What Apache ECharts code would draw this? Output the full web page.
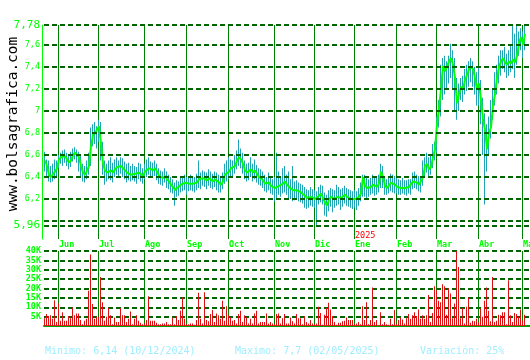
<!DOCTYPE html>
<html><head><meta charset="utf-8">
<script src="https://cdn.jsdelivr.net/npm/echarts@6/dist/echarts.min.js"></script>
<style>html,body{margin:0;padding:0;background:#fff}#c{width:530px;height:360px}</style>
</head><body><div id="c"></div>
<script>
// ---- data ----
const monthNames = ['Jun','Jul','Ago','Sep','Oct','Nov','Dic','Ene','Feb','Mar','Abr','May'];
const monthStart = [7,27,50,71,92,115,135,155,176,196,217,239];

const close = [
 6.55,6.50,6.42,6.40,6.41,6.45,6.48,
 6.56,6.58,6.57,6.59,6.58,6.53,6.55,6.60,6.62,6.61,6.58,6.50,6.44,6.42,6.43,6.50,6.68,6.78,6.80,6.79,
 6.86,6.70,6.52,6.46,6.44,6.45,6.46,6.44,6.47,6.49,6.48,6.50,6.49,6.46,6.44,6.45,6.42,6.43,6.43,6.42,6.44,6.43,6.41,
 6.45,6.46,6.48,6.47,6.46,6.48,6.45,6.41,6.40,6.39,6.41,6.38,6.36,6.33,6.31,6.28,6.30,6.29,6.33,6.34,6.35,
 6.34,6.34,6.35,6.34,6.33,6.35,6.38,6.37,6.39,6.38,6.37,6.39,6.38,6.36,6.38,6.37,6.35,6.33,6.36,6.42,6.43,
 6.45,6.48,6.47,6.50,6.55,6.58,6.56,6.52,6.46,6.44,6.45,6.47,6.44,6.46,6.43,6.40,6.39,6.37,6.34,6.33,6.35,6.32,6.31,
 6.30,6.31,6.32,6.31,6.34,6.36,6.33,6.31,6.30,6.28,6.27,6.28,6.27,6.26,6.25,6.23,6.21,6.20,6.22,6.21,
 6.20,6.19,6.23,6.25,6.24,6.17,6.14,6.20,6.22,6.21,6.20,6.22,6.23,6.21,6.22,6.24,6.22,6.21,6.20,6.19,
 6.20,6.21,6.22,6.25,6.40,6.32,6.30,6.29,6.31,6.33,6.32,6.31,6.34,6.45,6.40,6.32,6.30,6.31,6.35,6.34,6.33,
 6.31,6.30,6.30,6.31,6.30,6.29,6.31,6.30,6.36,6.37,6.35,6.33,6.32,6.40,6.50,6.52,6.47,6.49,6.58,6.65,
 6.88,7.02,7.20,7.41,7.36,7.35,7.45,7.48,7.42,7.30,7.07,7.15,7.22,7.20,7.28,7.33,7.38,7.40,7.38,7.30,7.19,
 7.25,7.10,6.92,6.83,6.65,6.80,6.85,7.05,7.15,7.30,7.40,7.45,7.48,7.44,7.42,7.45,7.43,7.47,7.44,7.50,7.62,7.67,
 7.60,7.70
];
const high = [
 6.63,6.56,6.55,6.50,6.52,6.56,6.55,
 6.60,6.62,6.64,6.65,6.62,6.60,6.63,6.66,6.67,6.65,6.63,6.60,6.52,6.50,6.55,6.62,6.85,6.88,6.90,6.86,
 6.92,6.90,6.72,6.55,6.52,6.55,6.58,6.53,6.56,6.58,6.55,6.58,6.57,6.54,6.52,6.53,6.50,6.52,6.50,6.49,6.53,6.52,6.48,
 6.52,6.56,6.58,6.54,6.53,6.55,6.52,6.48,6.46,6.45,6.48,6.45,6.42,6.40,6.38,6.35,6.37,6.36,6.40,6.41,6.42,
 6.40,6.41,6.42,6.41,6.40,6.43,6.55,6.44,6.46,6.45,6.44,6.47,6.45,6.43,6.45,6.44,6.42,6.40,6.44,6.52,6.55,
 6.58,6.56,6.55,6.60,6.64,6.74,6.66,6.62,6.55,6.52,6.53,6.58,6.52,6.56,6.51,6.48,6.47,6.45,6.42,6.40,6.44,6.40,6.38,
 6.40,6.62,6.45,6.40,6.48,6.50,6.42,6.45,6.38,6.50,6.36,6.37,6.35,6.34,6.33,6.31,6.29,6.28,6.31,6.29,
 6.28,6.27,6.31,6.33,6.32,6.26,6.24,6.28,6.30,6.29,6.28,6.33,6.31,6.29,6.30,6.32,6.30,6.29,6.28,6.27,
 6.28,6.27,6.30,6.35,6.42,6.42,6.40,6.38,6.39,6.42,6.40,6.39,6.42,6.52,6.50,6.40,6.38,6.39,6.43,6.42,6.41,
 6.39,6.38,6.37,6.39,6.37,6.37,6.38,6.38,6.44,6.45,6.42,6.41,6.40,6.55,6.58,6.62,6.58,6.60,6.70,6.72,
 6.95,7.10,7.42,7.48,7.50,7.45,7.50,7.61,7.55,7.48,7.30,7.25,7.30,7.32,7.38,7.42,7.45,7.48,7.45,7.40,7.35,
 7.40,7.28,7.12,6.98,6.88,6.95,7.10,7.20,7.35,7.42,7.50,7.55,7.55,7.58,7.52,7.55,7.60,7.78,7.70,7.78,7.72,7.75,
 7.72,7.78
];
const low = [
 6.45,6.40,6.36,6.35,6.36,6.38,6.40,
 6.48,6.52,6.50,6.53,6.50,6.47,6.49,6.54,6.56,6.53,6.45,6.40,6.36,6.35,6.38,6.42,6.50,6.68,6.70,6.66,
 6.72,6.55,6.42,6.33,6.36,6.38,6.37,6.35,6.40,6.42,6.40,6.43,6.40,6.38,6.35,6.37,6.36,6.37,6.36,6.34,6.38,6.36,6.34,
 6.38,6.40,6.42,6.40,6.39,6.41,6.37,6.34,6.33,6.32,6.35,6.30,6.29,6.26,6.25,6.14,6.22,6.23,6.26,6.27,6.28,
 6.24,6.27,6.28,6.27,6.26,6.28,6.30,6.29,6.32,6.31,6.29,6.32,6.30,6.29,6.31,6.28,6.26,6.26,6.29,6.34,6.36,
 6.38,6.40,6.39,6.43,6.47,6.50,6.48,6.43,6.38,6.36,6.37,6.40,6.36,6.38,6.35,6.33,6.32,6.30,6.27,6.26,6.28,6.25,6.24,
 6.18,6.20,6.24,6.22,6.25,6.26,6.24,6.20,6.20,6.18,6.19,6.20,6.18,6.17,6.16,6.12,6.11,6.12,6.14,6.13,
 6.12,5.96,6.15,6.17,6.15,6.05,6.04,6.09,6.13,6.08,6.12,6.14,6.15,6.10,6.13,6.16,6.14,6.13,6.12,6.11,
 6.12,6.10,6.14,6.18,6.22,6.22,6.21,6.22,6.24,6.25,6.23,6.24,6.26,6.30,6.30,6.24,6.24,6.25,6.27,6.26,6.25,
 6.25,6.24,6.24,6.25,6.24,6.23,6.25,6.24,6.29,6.30,6.29,6.27,6.26,6.32,6.40,6.44,6.40,6.42,6.48,6.55,
 6.62,6.85,6.95,7.10,7.15,7.20,7.25,7.30,7.20,7.00,6.92,7.00,7.10,7.08,7.15,7.18,7.22,7.26,7.22,7.15,7.05,
 7.05,6.88,6.60,6.15,6.45,6.60,6.75,6.92,7.05,7.15,7.25,7.32,7.38,7.35,7.30,7.32,7.35,7.38,7.30,7.42,7.50,7.55,
 7.48,7.55
];
// volume in thousands of shares
const volume = [
 4.2,6.4,5.3,5.7,3.9,13.8,2.1,
 12,2.8,7.4,2.8,2.8,5.3,4.2,9.9,5.7,6.7,6.7,3.2,1,2.8,3.9,18.8,38.2,11.7,3.9,5,
 5,26.2,12.7,2.8,5,9.6,5.7,1,4.6,2.1,2.1,9.6,5.7,5.7,2.1,3.9,7.8,1,3.9,5.7,2.8,1.8,1,
 1.5,3.2,15.9,2.8,2.8,2.8,1.8,1,1,1.4,1.4,2.1,1,1,4.6,1,5.3,3.2,8.1,15.2,3.9,
 1,1,1.4,1.4,0.7,3.2,17.7,3.9,1.4,18,3.2,2.5,6.4,8.5,2.1,6.7,5.7,3.9,13.5,2.8,10.6,
 5.7,4.6,2.8,3.2,1.4,6.4,8.1,2.1,5.7,4.6,1.4,3.9,1.4,6.7,8.1,1.4,2.1,2.1,2.1,6.7,1.4,2.1,1.4,
 1,6.4,6.7,1.4,4.2,6.4,1.4,1.4,4.6,2.5,1.4,6.4,4.2,4.2,1,5.3,2.1,1.4,3.2,1.4,
 1,1.4,10.3,7,0.7,6,9.6,12.4,8.8,5.3,2.1,0.7,1.8,1.8,2.5,2.8,4.6,3.2,3.2,3.2,
 1,1.4,2.1,1,10.6,3.2,12.7,1,3.2,20.5,2.1,3.2,0.4,7.4,1,2.1,1,0.7,3.9,1,8.5,
 1,3.2,4.6,3.5,1.4,4.2,6.4,3.9,5.7,7.4,5.3,8.8,3.9,5.7,3.9,5.7,16.6,2.1,7,21.2,
 19.1,13.5,12.7,22.3,21.2,6,20.2,17.3,4.2,12,40,31.5,4.2,9.6,1.4,10.3,15.2,1.8,2.8,2.5,3.9,
 2,9.2,5,13.5,20.5,8.1,2.5,26.2,2.1,2.8,6,5.7,7.4,7.4,1,24.4,5.7,2.1,7,6.4,5,8.8,
 3,6
];
const priceTicks  = [7.78, 7.6, 7.4, 7.2, 7.0, 6.8, 6.6, 6.4, 6.2, 6.0, 5.96];
const priceLabels = ['7,78','7,6','7,4','7,2','7','6,8','6,6','6,4','6,2','','5,96'];
const volTickStep = 5000, volMax = 40000;
const yearLabel = '2025';
const footMin = 'Minimo: 6,14 (10/12/2024)';
const footMax = 'Maximo: 7,7 (02/05/2025)';
const footVar = 'Variación: 25%';
const siteText = 'www.bolsagrafica.com';

// ---- chart ----
const N = 243;
const cats = Array.from({length: N}, (_, i) => String(i));
const GREEN = '#00ff00', DARK = '#006400', MONTH = '#008000', TEAL = '#1fa5b5', RED = '#dd1111';
const MONO = '"DejaVu Sans Mono", "Liberation Mono", monospace';

const chart = echarts.init(document.getElementById('c'), null, {renderer: 'canvas'});

const isMonth = (idx) => monthStart.indexOf(idx) >= 0;

const markData = priceTicks.map((v, k) => ({
  yAxis: v,
  label: {
    show: priceLabels[k] !== '',
    formatter: priceLabels[k],
    fontSize: (k === 0 || k === priceTicks.length - 1) ? 11 : 8.5,
  }
}));

chart.setOption({
  animation: false,
  backgroundColor: '#fff',
  grid: [
    {left: 44, top: 25, width: 486, height: 214, containLabel: false, outerBoundsMode: 'none'},
    {left: 44, top: 251, width: 486, height: 75, containLabel: false, outerBoundsMode: 'none'}
  ],
  xAxis: [
    {type: 'category', gridIndex: 0, data: cats, boundaryGap: true,
     axisLine: {show: false}, axisTick: {show: false},
     splitLine: {show: true, interval: isMonth, lineStyle: {color: MONTH, width: 1}},
     axisLabel: {show: true, interval: isMonth,
       formatter: (v, idx) => { const m = monthStart.indexOf(idx); return m >= 0 ? monthNames[m] : ''; },
       align: 'left', verticalAlign: 'middle', margin: 5.5,
       color: GREEN, fontFamily: MONO, fontWeight: 'bold', fontSize: 8.5}},
    {type: 'category', gridIndex: 1, data: cats, boundaryGap: true,
     axisLine: {show: true, onZero: false, lineStyle: {color: '#00a000', width: 2}},
     axisTick: {show: false}, axisLabel: {show: false},
     splitLine: {show: true, interval: isMonth, lineStyle: {color: MONTH, width: 1}}}
  ],
  yAxis: [
    {type: 'value', gridIndex: 0, min: 5.8374, max: 7.78, offset: 2,
     axisLine: {show: true, onZero: false, lineStyle: {color: GREEN, width: 1}},
     axisTick: {show: false}, axisLabel: {show: false}, splitLine: {show: false}},
    {type: 'value', gridIndex: 1, min: 0, max: volMax, interval: volTickStep,
     axisLine: {show: false}, axisTick: {show: false},
     axisLabel: {show: true, margin: 3, color: GREEN, fontFamily: MONO, fontWeight: 'bold', fontSize: 8.5,
       formatter: (v) => v === 0 ? '' : (v / 1000) + 'K'},
     splitLine: {show: true, lineStyle: {color: DARK, width: 2, type: [5, 3]}}}
  ],
  series: [
    {type: 'custom', xAxisIndex: 0, yAxisIndex: 0, clip: true, z: 2,
     data: close.map((c, i) => [i, high[i], low[i]]),
     encode: {x: 0, y: [1, 2]},
     renderItem: (params, api) => {
       const i = api.value(0);
       const t = api.coord([i, api.value(1)]);
       const b = api.coord([i, api.value(2)]);
       return {type: 'rect', shape: {x: Math.round(t[0]) - 1, y: t[1], width: 1, height: Math.max(1, b[1] - t[1])},
               style: {fill: TEAL}};
     }},
    {type: 'line', xAxisIndex: 0, yAxisIndex: 0, data: close, symbol: 'none', z: 3,
     lineStyle: {color: GREEN, width: 2},
     markLine: {silent: true, symbol: ['none', 'none'], animation: false,
       lineStyle: {color: DARK, width: 2, type: [5, 3]},
       label: {position: 'start', distance: 4, color: GREEN, fontFamily: MONO},
       emphasis: {disabled: true},
       data: markData}},
    {type: 'custom', xAxisIndex: 1, yAxisIndex: 1, clip: true, z: 2,
     data: volume.map((v, i) => [i, v * 1000]),
     encode: {x: 0, y: 1},
     renderItem: (params, api) => {
       const i = api.value(0);
       const t = api.coord([i, api.value(1)]);
       const b = api.coord([i, 0]);
       return {type: 'rect', shape: {x: Math.round(t[0]) - 1, y: t[1], width: 1, height: b[1] - t[1]},
               style: {fill: RED}};
     }}
  ],
  graphic: [
    {type: 'text', x: 13, y: 124, rotation: Math.PI / 2,
     style: {text: siteText, font: '14.5px ' + MONO, fill: '#000',
             align: 'center', verticalAlign: 'middle', textAlign: 'center', textVerticalAlign: 'middle'}},
    {type: 'text', x: 355, y: 236,
     style: {text: yearLabel, font: '8.5px ' + MONO, fill: '#ff0000', verticalAlign: 'middle', textVerticalAlign: 'middle'}},
    {type: 'text', x: 45, y: 351,
     style: {text: footMin, font: '10px ' + MONO, fill: '#9feeff', verticalAlign: 'middle', textVerticalAlign: 'middle'}},
    {type: 'text', x: 235, y: 351,
     style: {text: footMax, font: '10px ' + MONO, fill: '#9feeff', verticalAlign: 'middle', textVerticalAlign: 'middle'}},
    {type: 'text', x: 420, y: 351,
     style: {text: footVar, font: '10px ' + MONO, fill: '#9feeff', verticalAlign: 'middle', textVerticalAlign: 'middle'}}
  ]
});
</script></body></html>
